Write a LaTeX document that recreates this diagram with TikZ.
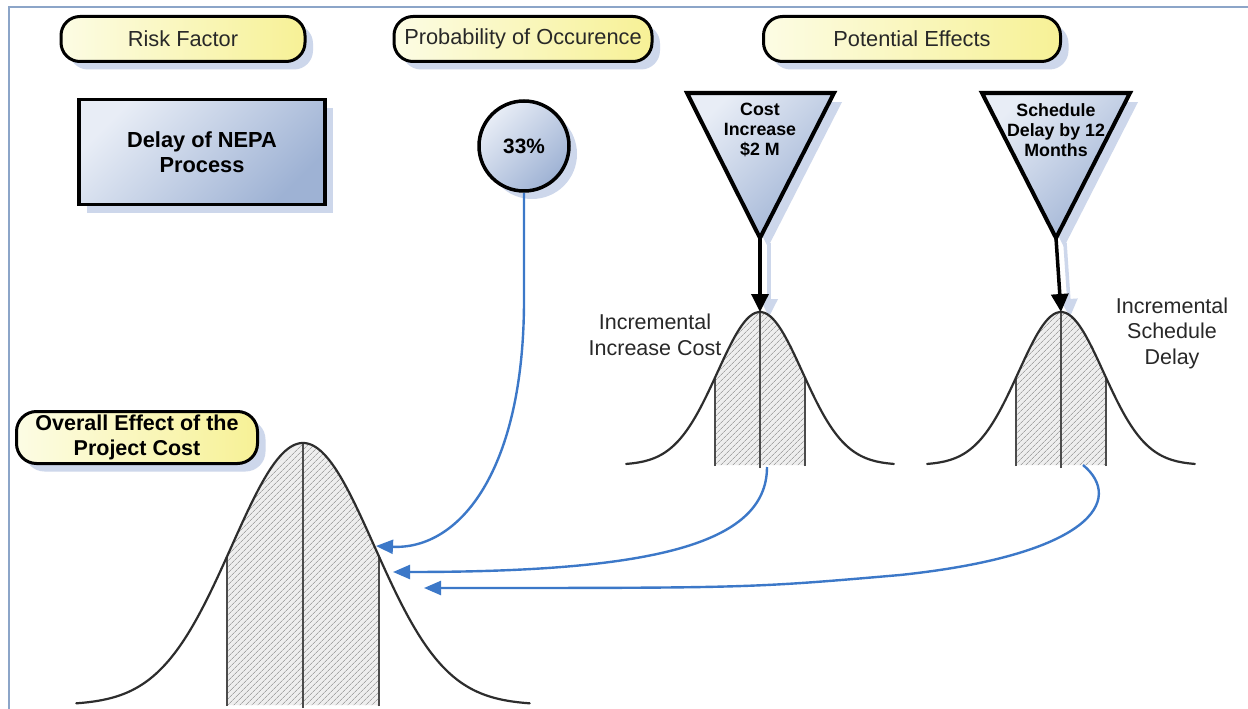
\documentclass[tikz,border=0pt]{standalone}
\usepackage{fontspec}
\setmainfont{Liberation Sans}
\usetikzlibrary{shadows,patterns.meta,arrows.meta}

\definecolor{framecol}{RGB}{140,165,200}
\definecolor{shadowcol}{RGB}{205,215,235}
\definecolor{pilllight}{RGB}{252,252,228}
\definecolor{pilldark}{RGB}{247,241,150}
\definecolor{boxlight}{RGB}{232,237,246}
\definecolor{boxdark}{RGB}{158,178,212}
\definecolor{linkcol}{RGB}{60,120,200}
\definecolor{curvecol}{RGB}{45,45,45}
\definecolor{bandcol}{RGB}{75,75,75}
\definecolor{hatchbg}{RGB}{238,238,238}
\definecolor{hatchfg}{RGB}{165,165,165}
\definecolor{textcol}{RGB}{40,40,40}

% bell curve: centre x, base y, height, sigma, tail span and band half-width (in sigma)
\newcommand\bellshape[6]{%
  \begin{scope}[shift={(#1,#2)}]
    \fill[hatchbg] plot[domain=-#6:#6,samples=40] ({#4*\x},{-#3*exp(-0.5*\x*\x)})
      -- ({#4*#6},0) -- ({-#4*#6},0) -- cycle;
    \fill[pattern={Lines[angle=45,distance=4pt,line width=0.7pt]},pattern color=hatchfg]
      plot[domain=-#6:#6,samples=40] ({#4*\x},{-#3*exp(-0.5*\x*\x)})
      -- ({#4*#6},0) -- ({-#4*#6},0) -- cycle;
    \draw[bandcol,line width=2pt] ({-#4*#6},1) -- ({-#4*#6},{-#3*exp(-0.5*#6*#6)});
    \draw[bandcol,line width=2pt] ({#4*#6},1) -- ({#4*#6},{-#3*exp(-0.5*#6*#6)});
    \draw[bandcol,line width=2pt] (0,3) -- (0,-#3);
    \draw[curvecol,line width=2.2pt,line cap=round] plot[domain=-#5:#5,samples=90,smooth]
      ({#4*\x},{-#3*exp(-0.5*\x*\x)});
  \end{scope}}

\begin{document}
\begin{tikzpicture}[x=1pt,y=-1pt,
  shadowed/.style={drop shadow={shadow xshift=8pt,shadow yshift=-8pt,fill=shadowcol,opacity=1}},
  pill/.style={draw=black,line width=3pt,rounded corners=19pt,
    left color=pilllight,right color=pilldark,shadowed,
    inner sep=0pt,align=center,text=textcol},
  bluebox/.style={draw=black,line width=3.5pt,top color=boxlight,bottom color=boxdark,
    shading angle=45,shadowed,inner sep=0pt,align=center,text=black},
  headtext/.style={font=\fontsize{21.8}{25}\selectfont},
  tritext/.style={align=center,text=black,font=\bfseries\fontsize{17.8}{20}\selectfont},
  plaintext/.style={align=center,text=textcol,font=\fontsize{21.5}{25.5}\selectfont},
  effect/.style={line width=3.5pt,-{Triangle[length=18pt,width=17pt]}},
  link/.style={linkcol,line width=2.4pt,-{Triangle[length=17pt,width=14pt]}}]

\useasboundingbox (0,0) rectangle (1248,709);
\fill[white] (0,0) rectangle (1248,709);

% frame edges
\draw[framecol,line width=2.2pt] (9,709) -- (9,7) -- (1248,7);

% column headings
\node[pill,headtext,minimum width=244pt,minimum height=45pt] (hrisk) at (183,39) {Risk Factor};
\node[pill,headtext,minimum width=258pt,minimum height=45pt] (hprob) at (523,39) {Probability of Occurence};
\node[pill,headtext,minimum width=297pt,minimum height=45pt] (heff) at (912,39) {Potential Effects};

% risk factor and probability
\node[bluebox,minimum width=246pt,minimum height=105pt,
  font=\bfseries\fontsize{21.8}{25}\selectfont] (nepa) at (202,152) {Delay of NEPA\\Process};
\node[bluebox,circle,minimum size=90pt,font=\bfseries\fontsize{20.8}{24}\selectfont]
  (prob) at (524,146) {33\%};

% effect triangles
\coordinate (t1a) at (687,93);
\coordinate (t1b) at (834,93);
\coordinate (t1tip) at (760,238);
\coordinate (t2a) at (982,93);
\coordinate (t2b) at (1130,93);
\coordinate (t2tip) at (1056,238);

\fill[shadowcol] ([shift={(8,9)}]t1a) -- ([shift={(8,9)}]t1b) -- ([shift={(8,9)}]t1tip) -- cycle;
\fill[shadowcol] ([shift={(8,9)}]t2a) -- ([shift={(8,9)}]t2b) -- ([shift={(8,9)}]t2tip) -- cycle;

% bell peaks
\coordinate (peak1) at (760,312);
\coordinate (peak2) at (1061,312);

% arrow shadows
\draw[shadowcol,effect,transform canvas={shift={(9pt,-5pt)}}] (t1tip) -- (peak1);
\draw[shadowcol,effect,transform canvas={shift={(9pt,-5pt)}}] (t2tip) -- (peak2);

\draw[line width=4pt,top color=boxlight,bottom color=boxdark,shading angle=45]
  (t1a) -- (t1b) -- (t1tip) -- cycle;
\draw[line width=4pt,top color=boxlight,bottom color=boxdark,shading angle=45]
  (t2a) -- (t2b) -- (t2tip) -- cycle;
\node[tritext] (cost) at (760,130) {Cost\\Increase\\\$2 M};
\node[tritext] (sched) at (1056,130) {Schedule\\Delay by 12\\Months};

% distributions
\bellshape{760}{465}{153}{42.5}{3.15}{1.06}
\bellshape{1061}{465}{153}{42.5}{3.15}{1.05}
\bellshape{303}{705}{262}{71.3}{3.18}{1.06}

\draw[effect] (t1tip) -- (peak1);
\draw[effect] (t2tip) -- (peak2);

\node[plaintext] (inccost) at (655,335) {Incremental\\Increase Cost};
\node[plaintext] (incsched) at (1172,333) {Incremental\\Schedule\\Delay};

\node[pill,minimum width=241pt,minimum height=52pt,rounded corners=20pt,
  font=\bfseries\fontsize{21.5}{25}\selectfont,text=black] (overall) at (137,437.5)
  {Overall Effect of the\\Project Cost};

% contributions into the overall distribution
\coordinate (foot1) at (767,467);
\coordinate (foot2) at (1083,465);
\coordinate (in1) at (376,546);
\coordinate (in2) at (393,572);
\coordinate (in3) at (424,588);

\draw[link] (prob.south) -- (524,300) .. controls (524,470) and (460,550) .. (in1);
\draw[link] (foot1) .. controls (767,545) and (650,572) .. (in2);
\draw[link] (foot2) .. controls (1125,500) and (1090,555) .. (900,575)
  .. controls (750,588) .. (in3);

\end{tikzpicture}
\end{document}
